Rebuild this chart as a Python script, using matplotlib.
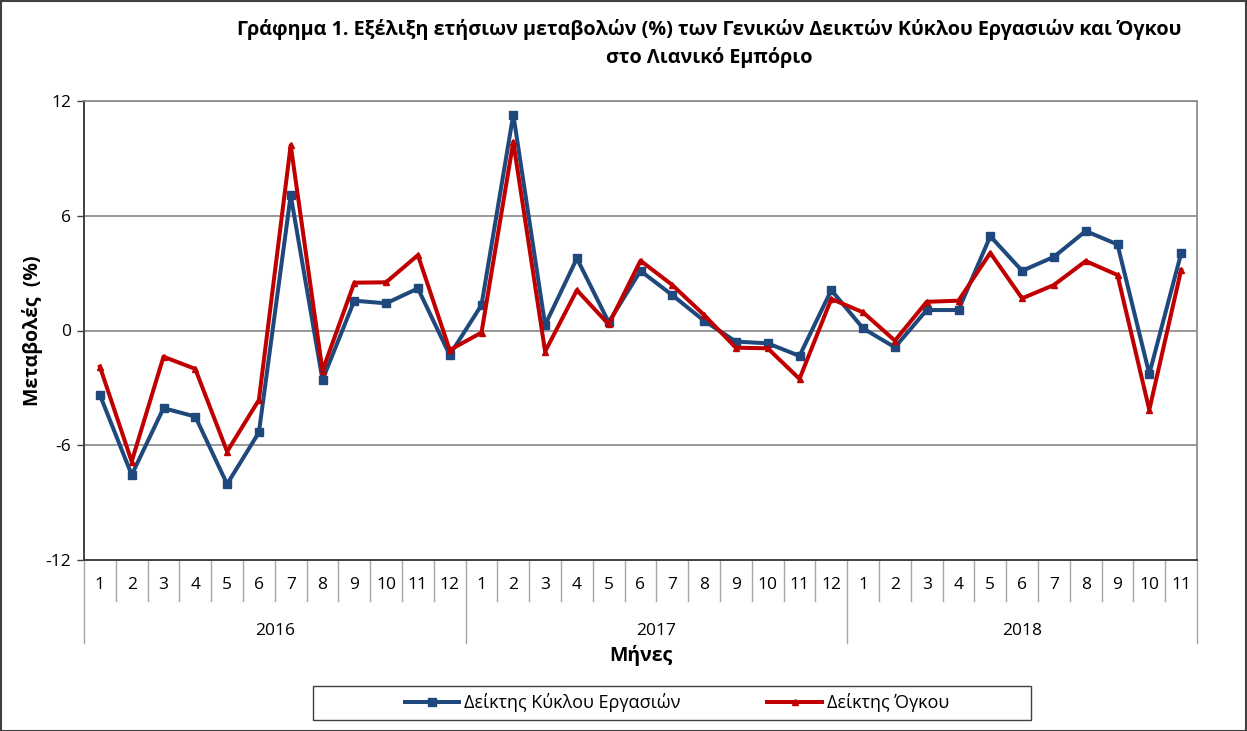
import matplotlib
matplotlib.use("Agg")
import matplotlib.pyplot as plt
from matplotlib.patches import Rectangle
import matplotlib.transforms as mtransforms

plt.rcParams['font.family'] = ['Open Sans', 'DejaVu Sans']

# data: yearly % changes, Jan 2016 - Nov 2018
years = ['2016', '2017', '2018']
months_per_year = [12, 12, 11]
month_labels = [str(m) for n in months_per_year for m in range(1, n + 1)]

turnover = [-3.37, -7.55, -4.06, -4.5, -8.03, -5.33, 7.07, -2.58, 1.56, 1.42, 2.2, -1.28,
            1.33, 11.29, 0.29, 3.77, 0.43, 3.12, 1.85, 0.51, -0.58, -0.67, -1.33, 2.11,
            0.11, -0.88, 1.07, 1.07, 4.93, 3.12, 3.85, 5.2, 4.5, -2.27, 4.03]
volume = [-1.89, -6.85, -1.37, -2.01, -6.33, -3.63, 9.69, -2.1, 2.5, 2.52, 3.94, -1.02,
          -0.11, 9.86, -1.1, 2.11, 0.32, 3.65, 2.38, 0.81, -0.9, -0.93, -2.53, 1.65,
          0.95, -0.53, 1.5, 1.56, 4.06, 1.68, 2.38, 3.63, 2.9, -4.15, 3.16]

blue = '#1F497D'
red = '#C00000'
sep_col = '#A6A6A6'

W, H = 1247, 731
fig = plt.figure(figsize=(W / 100, H / 100), dpi=100)
ax = fig.add_axes([84 / W, 1 - 560 / H, (1197 - 84) / W, (560 - 101) / H])

n = len(month_labels)
x = [i + 0.5 for i in range(n)]
ax.plot(x, turnover, color=blue, lw=2.9, marker='s', ms=5.5, label='Δείκτης Κύκλου Εργασιών', zorder=3)
ax.plot(x, volume, color=red, lw=2.9, marker='^', ms=5, label='Δείκτης Όγκου', zorder=4)

ax.set_xlim(0, n)
ax.set_ylim(-12, 12)
ax.set_yticks([-12, -6, 0, 6, 12])
ax.set_yticklabels(['-12', '-6', '0', '6', '12'], fontsize=12.5)
ax.tick_params(axis='y', direction='out', length=5, width=1, color='#404040', pad=4)
ax.set_xticks([])
for v in [-6, 0, 6, 12]:
    ax.axhline(v, color='#868686', lw=1.2, zorder=1)

for s in ['top', 'right']:
    ax.spines[s].set_color('#868686')
    ax.spines[s].set_linewidth(1.2)
for s in ['left', 'bottom']:
    ax.spines[s].set_color('#404040')
    ax.spines[s].set_linewidth(1.4)

# multi-level category axis
trans = mtransforms.blended_transform_factory(ax.transData, fig.transFigure)
y_axis = 1 - 560 / H
y_month_end = 1 - 601 / H
y_year_end = 1 - 643 / H
for i, lab in enumerate(month_labels):
    ax.text(i + 0.5, 1 - 585 / H, lab, transform=trans, ha='center', va='center', fontsize=12.5)
starts = [0]
for m in months_per_year:
    starts.append(starts[-1] + m)
for b in range(n + 1):
    bottom = y_year_end if b in starts else y_month_end
    ax.plot([b, b], [y_axis, bottom], transform=trans, color=sep_col, lw=1, clip_on=False)
for k, yr in enumerate(years):
    ax.text((starts[k] + starts[k + 1]) / 2, 1 - 631 / H, yr, transform=trans,
            ha='center', va='center', fontsize=12.5)

fig.text(641 / W, 1 - 656 / H, 'Μήνες', ha='center', va='center', fontsize=14, fontweight='bold')
fig.text(33 / W, 1 - 331 / H, 'Μεταβολές  (%)', ha='center', va='center', rotation=90,
         fontsize=14, fontweight='bold')

fig.text(709 / W, 1 - 29 / H, 'Γράφημα 1. Εξέλιξη ετήσιων μεταβολών (%) των Γενικών Δεικτών Κύκλου Εργασιών και Όγκου',
         ha='center', va='center', fontsize=14.2, fontweight='bold')
fig.text(709 / W, 1 - 58 / H, 'στο Λιανικό Εμπόριο', ha='center', va='center', fontsize=14.2, fontweight='bold')

# legend box drawn separately, legend itself frameless
fig.patches.append(Rectangle((313 / W, 1 - 720 / H), (1031 - 313) / W, (720 - 686) / H,
                             transform=fig.transFigure, fill=False, edgecolor='#404040', lw=1))
leg = fig.legend(loc='center', bbox_to_anchor=(677 / W, 1 - 703 / H), ncol=2, fontsize=13,
                 frameon=False, columnspacing=4.8, handlelength=3.0, handletextpad=0.3)

fig.patches.append(Rectangle((0.5 / W, 0.5 / H), 1 - 1.5 / W, 1 - 1.5 / H, transform=fig.transFigure,
                             fill=False, edgecolor='#404040', lw=1.5))

fig.savefig('out.png', dpi=100)
